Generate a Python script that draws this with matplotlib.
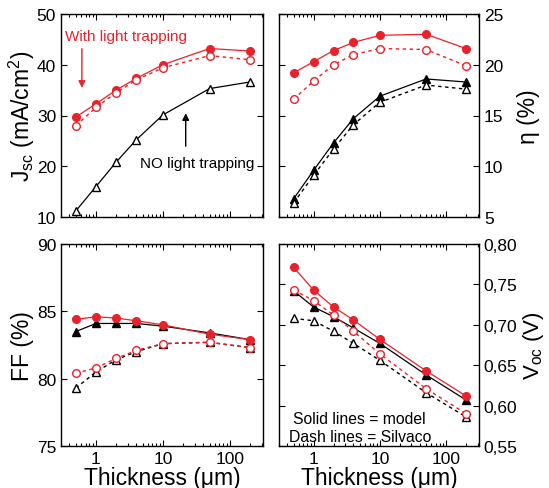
import numpy as np
import matplotlib
matplotlib.use("Agg")
import matplotlib.pyplot as plt
from matplotlib.ticker import FuncFormatter, FixedLocator, LogLocator, NullFormatter

plt.rcParams['font.family'] = ['Liberation Sans', 'DejaVu Sans']
plt.rcParams['mathtext.fontset'] = 'custom'
plt.rcParams['mathtext.rm'] = 'Liberation Sans'
plt.rcParams['mathtext.it'] = 'Liberation Sans'

# ------------------
# Data
# ------------------
thickness = [0.5, 1, 2, 4, 10, 50, 200]   # um

# short-circuit current (mA/cm2)
jsc_lt_model = [29.7, 32.3, 35.0, 37.3, 40.0, 43.2, 42.7]
jsc_lt_silvaco = [28.0, 31.6, 34.5, 37.0, 39.4, 41.8, 41.0]
jsc_nolt = [11.2, 16.0, 20.8, 25.2, 30.1, 35.3, 36.6]

# efficiency (%)
eta_lt_model = [19.2, 20.3, 21.4, 22.2, 22.9, 23.0, 21.6]
eta_lt_silvaco = [16.6, 18.4, 20.0, 21.0, 21.6, 21.5, 19.9]
eta_nolt_model = [6.8, 9.6, 12.3, 14.7, 16.9, 18.6, 18.3]
eta_nolt_silvaco = [6.4, 9.1, 11.7, 14.1, 16.3, 18.0, 17.6]

# fill factor (%)
ff_lt_model = [84.4, 84.6, 84.5, 84.3, 84.0, 83.3, 82.9]
ff_nolt_model = [83.5, 84.1, 84.1, 84.1, 83.9, 83.4, 82.9]
ff_lt_silvaco = [80.4, 80.8, 81.5, 82.1, 82.6, 82.7, 82.3]
ff_nolt_silvaco = [79.3, 80.5, 81.4, 82.0, 82.6, 82.7, 82.3]

# open-circuit voltage (V)
voc_lt_model = [0.771, 0.743, 0.722, 0.706, 0.682, 0.643, 0.612]
voc_nolt_model = [0.742, 0.722, 0.710, 0.696, 0.677, 0.638, 0.607]
voc_lt_silvaco = [0.743, 0.730, 0.712, 0.692, 0.664, 0.621, 0.590]
voc_nolt_silvaco = [0.708, 0.705, 0.692, 0.677, 0.656, 0.616, 0.586]

RED = '#e8212b'
DASH = (0, (2.5, 2.5))

fig = plt.figure(figsize=(5.49, 4.89), dpi=100)
W, H = 549.0, 489.0


def make_ax(x0, x1, y0, y1):
    return fig.add_axes([x0 / W, 1 - y1 / H, (x1 - x0) / W, (y1 - y0) / H])


ax_j = make_ax(61, 263, 15, 218)
ax_e = make_ax(279, 479, 15, 218)
ax_f = make_ax(61, 263, 245, 447)
ax_v = make_ax(279, 479, 245, 447)


def solid(ax, y, color, marker, filled=True):
    ax.plot(thickness, y, color=color, lw=0.9, marker=marker, ms=5.5,
            mfc=color if filled else 'white', mec=color, mew=1.0, zorder=3)


def dashed(ax, y, color, marker):
    ax.plot(thickness, y, color=color, lw=1.0, ls=DASH, marker=marker, ms=5.5,
            mfc='white', mec=color, mew=1.0, zorder=4)


# Jsc
solid(ax_j, jsc_lt_model, RED, 'o')
dashed(ax_j, jsc_lt_silvaco, RED, 'o')
solid(ax_j, jsc_nolt, 'black', '^', filled=False)
ax_j.text(0.345, 45.6, 'With light trapping', color=RED, fontsize=11, va='center')
ax_j.annotate('', xy=(0.616, 34.9), xytext=(0.616, 43.7),
              arrowprops=dict(arrowstyle='-|>', color=RED, lw=1.0, mutation_scale=10))
ax_j.text(32.9, 20.6, 'NO light trapping', color='black', fontsize=11,
          va='center', ha='center')
ax_j.annotate('', xy=(22, 31.0), xytext=(22, 23.4),
              arrowprops=dict(arrowstyle='-|>', color='black', lw=1.0, mutation_scale=10))

# efficiency
solid(ax_e, eta_lt_model, RED, 'o')
dashed(ax_e, eta_lt_silvaco, RED, 'o')
solid(ax_e, eta_nolt_model, 'black', '^')
dashed(ax_e, eta_nolt_silvaco, 'black', '^')

# FF
dashed(ax_f, ff_nolt_silvaco, 'black', '^')
dashed(ax_f, ff_lt_silvaco, RED, 'o')
solid(ax_f, ff_nolt_model, 'black', '^')
solid(ax_f, ff_lt_model, RED, 'o')

# Voc
dashed(ax_v, voc_nolt_silvaco, 'black', '^')
dashed(ax_v, voc_lt_silvaco, RED, 'o')
solid(ax_v, voc_nolt_model, 'black', '^')
solid(ax_v, voc_lt_model, RED, 'o')
ax_v.text(0.068, 0.134, 'Solid lines = model', fontsize=11.3, va='center',
          transform=ax_v.transAxes)
ax_v.text(0.05, 0.045, 'Dash lines = Silvaco', fontsize=11.3, va='center',
          transform=ax_v.transAxes)

for ax in (ax_j, ax_e, ax_f, ax_v):
    ax.set_xscale('log')
    ax.set_xlim(0.3, 315)
    ax.xaxis.set_major_locator(FixedLocator([1, 10, 100]))
    ax.xaxis.set_minor_locator(LogLocator(base=10, subs=np.arange(2, 10)))
    ax.xaxis.set_minor_formatter(NullFormatter())
    ax.tick_params(which='both', direction='in', top=True, right=True,
                   labelsize=12.5, width=0.8)
    ax.tick_params(which='major', length=4)
    ax.tick_params(which='minor', length=2)
    for s in ax.spines.values():
        s.set_linewidth(1.0)

for ax in (ax_j, ax_e):
    ax.set_xticklabels([])

for ax in (ax_f, ax_v):
    ax.set_xticklabels(['1', '10', '100'])
    ax.set_xlabel('Thickness (μm)', fontsize=16.5, labelpad=0)

ax_j.set_ylim(10, 50)
ax_j.set_yticks([10, 20, 30, 40, 50])
ax_j.set_ylabel(r'J$_{\rm sc}$ (mA/cm$^{2}$)', fontsize=16.5, labelpad=0)

ax_e.set_ylim(5, 25)
ax_e.set_yticks([5, 10, 15, 20, 25])
ax_e.yaxis.tick_right()
ax_e.yaxis.set_label_position('right')
ax_e.tick_params(which='both', left=True)
ax_e.set_ylabel('η (%)', fontsize=16.5, labelpad=10)

ax_f.set_ylim(75, 90)
ax_f.set_yticks([75, 80, 85, 90])
ax_f.set_ylabel('FF (%)', fontsize=16.5, labelpad=2)

ax_v.set_ylim(0.55, 0.80)
ax_v.set_yticks([0.55, 0.60, 0.65, 0.70, 0.75, 0.80])
ax_v.yaxis.set_major_formatter(FuncFormatter(lambda v, p: f'{v:.2f}'.replace('.', ',')))
ax_v.yaxis.tick_right()
ax_v.yaxis.set_label_position('right')
ax_v.tick_params(which='both', left=True)
ax_v.set_ylabel(r'V$_{\rm oc}$ (V)', fontsize=16, labelpad=2)

fig.savefig('out.png', dpi=100)
